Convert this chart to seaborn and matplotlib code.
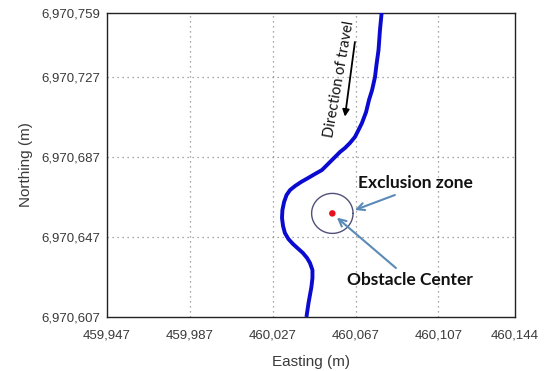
import numpy as np
import pandas as pd
import matplotlib
matplotlib.use("Agg")
import matplotlib.pyplot as plt
import seaborn as sns

# Vehicle track (UTM easting / northing, metres)
easting = [460079.6, 460078.8, 460078.1, 460077.1, 460076.4, 460075.0, 460073.5,
           460072.1, 460070.1, 460068.2, 460066.7, 460064.3, 460061.9, 460059.5,
           460057.1, 460053.7, 460050.8, 460047.4, 460044.1, 460040.7, 460037.8,
           460035.4, 460033.7, 460032.5, 460031.7, 460031.5, 460032.0, 460032.9,
           460034.6, 460036.8, 460039.2, 460041.6, 460043.6, 460045.0, 460046.2,
           460046.2, 460045.7, 460045.0, 460044.3, 460043.8, 460043.3]
northing = [6970759.0, 6970750.5, 6970740.5, 6970733.0, 6970727.0, 6970720.5,
            6970715.5, 6970709.5, 6970704.0, 6970700.0, 6970697.0, 6970694.0,
            6970691.5, 6970689.5, 6970687.0, 6970683.5, 6970680.5, 6970678.5,
            6970676.5, 6970674.5, 6970672.5, 6970670.5, 6970668.0, 6970664.5,
            6970660.5, 6970656.5, 6970652.5, 6970649.0, 6970646.0, 6970643.5,
            6970641.25, 6970639.0, 6970636.5, 6970634.0, 6970630.5, 6970626.5,
            6970622.0, 6970618.0, 6970614.0, 6970610.5, 6970607.0]

# Obstacle and its exclusion radius
obstacle_e = 460055.8
obstacle_n = 6970658.8
exclusion_radius = 10.0

x_ticks = [459947, 459987, 460027, 460067, 460107, 460144]
y_ticks = [6970607, 6970647, 6970687, 6970727, 6970759]

track = pd.DataFrame({"Easting": easting, "Northing": northing})

sns.set_style("white")
plt.rcParams["font.family"] = ["Liberation Sans", "DejaVu Sans"]

fig = plt.figure(figsize=(5.48, 3.71), dpi=100)
ax = fig.add_axes([107 / 548, 54 / 371, 408 / 548, 304 / 371])

sns.lineplot(data=track, x="Easting", y="Northing", sort=False, estimator=None,
             color="#0a0ad0", linewidth=2.8, ax=ax, zorder=3,
             solid_joinstyle="round", solid_capstyle="butt")

# exclusion zone circle and obstacle centre
theta = np.linspace(0, 2 * np.pi, 200)
ax.plot(obstacle_e + exclusion_radius * np.cos(theta),
        obstacle_n + exclusion_radius * np.sin(theta),
        color="#50507a", linewidth=1.0, zorder=3)
ax.scatter([obstacle_e], [obstacle_n], s=22, color="#e8101e", zorder=4,
           edgecolor="none")

ax.set_xlim(x_ticks[0], x_ticks[-1])
ax.set_ylim(y_ticks[0], y_ticks[-1])
ax.set_xticks(x_ticks)
ax.set_yticks(y_ticks)
ax.set_xticklabels([f"{v:,}" for v in x_ticks])
ax.set_yticklabels([f"{v:,}" for v in y_ticks])
ax.tick_params(axis="both", direction="in", length=4, width=0.8,
               labelsize=9.5, labelcolor="#3a3a3a", color="#333333")
ax.tick_params(axis="x", pad=9)
ax.tick_params(axis="y", pad=5)

for v in x_ticks[1:-1]:
    ax.axvline(v, color="#8a8a8a", linewidth=0.9, linestyle=(0, (1, 3)), zorder=1)
for v in y_ticks[1:-1]:
    ax.axhline(v, color="#8a8a8a", linewidth=0.9, linestyle=(0, (1, 3)), zorder=1)

for s in ax.spines.values():
    s.set_color("#222222")
    s.set_linewidth(1.0)

ax.set_xlabel("Easting (m)", fontsize=11, color="#3a3a3a", labelpad=10)
ax.set_ylabel("Northing (m)", fontsize=11, color="#3a3a3a", labelpad=6)

# annotations
ax.text(460059.0, 6970726.0, "Direction of travel", rotation=80,
        ha="center", va="center", fontsize=10.5, family="Lato", color="#111111",
        rotation_mode="anchor")
ax.annotate("", xy=(460061.9, 6970707.2), xytext=(460066.7, 6970744.5),
            arrowprops=dict(arrowstyle="-|>", color="black", lw=1.3,
                            mutation_scale=10, shrinkA=0, shrinkB=0))

ax.text(460095.7, 6970674.0, "Exclusion zone", ha="center", va="center",
        fontsize=12.5, fontweight="bold", family="Lato", color="#111111")
ax.annotate("", xy=(460066.7, 6970660.5), xytext=(460086.0, 6970668.0),
            arrowprops=dict(arrowstyle="->", color="#5a8ab8", lw=1.5,
                            mutation_scale=13, shrinkA=0, shrinkB=0))

ax.text(460093.3, 6970625.5, "Obstacle Center", ha="center", va="center",
        fontsize=12.5, fontweight="bold", family="Lato", color="#111111")
ax.annotate("", xy=(460058.0, 6970656.7), xytext=(460086.5, 6970631.5),
            arrowprops=dict(arrowstyle="->", color="#5a8ab8", lw=1.5,
                            mutation_scale=13, shrinkA=0, shrinkB=0))

fig.savefig("out.png", dpi=100)
